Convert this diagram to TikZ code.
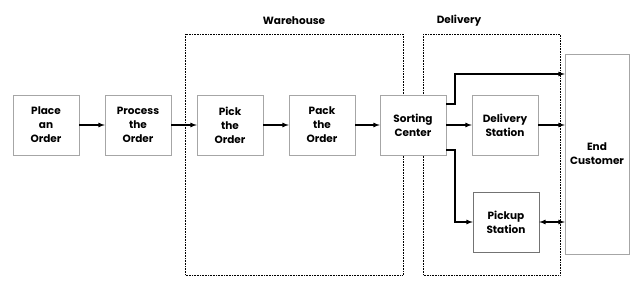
\documentclass[tikz,border=0pt]{standalone}
\usepackage{fontspec}
\setmainfont{Poppins}
\usepackage{tikz}

\begin{document}
\begin{tikzpicture}[x=1pt,y=-1pt,
        box/.style={rectangle,draw=gray!70,fill=white,minimum width=66pt,minimum height=60pt,
            inner sep=1pt,align=center,font=\fontsize{10.5}{14}\selectfont\bfseries},
        group/.style={draw,densely dotted,line width=0.6pt},
        flow/.style={->,>=latex,line width=1.2pt},
        title/.style={font=\fontsize{10.5}{12}\selectfont\bfseries}]

    \useasboundingbox (0,0) rectangle (643,286);

    % Groups
    \draw[group] (185,34) rectangle (403,275);
    \draw[group] (423,34) rectangle (560,275);
    \node[title] (warehouse) at (294,21) {Warehouse};
    \node[title] (delivery) at (459,21) {Delivery};

    % Order steps
    \node[box] (place) at (46,125) {Place\\an\\Order};
    \node[box] (process) at (138,125) {Process\\the\\Order};
    \node[box] (pick) at (230,125) {Pick\\the\\Order};
    \node[box] (pack) at (322,125) {Pack\\the\\Order};
    \node[box] (sort) at (413,125) {Sorting\\Center};

    % Stations
    \node[box] (dstation) at (505,125) {Delivery\\Station};
    \node[box,draw=gray!90!black] (pstation) at (506,222) {Pickup\\Station};

    % Customer
    \node[box,minimum width=64pt,minimum height=200pt] (customer) at (597,154) {End\\Customer};

    % Edges
    \draw[flow] (place) -- (process);
    \draw[flow] (process) -- (pick);
    \draw[flow] (pick) -- (pack);
    \draw[flow] (pack) -- (sort);
    \draw[flow] (sort.east |- 0,104) -| (455,74) -- (customer.west |- 0,74);
    \draw[flow] (sort) -- (dstation);
    \draw[flow] (dstation) -- (customer.west |- dstation);
    \draw[flow] (sort.east |- 0,150) -| (455,222) -- (pstation);
    \draw[flow,<->] (pstation) -- (customer.west |- pstation);
\end{tikzpicture}
\end{document}
